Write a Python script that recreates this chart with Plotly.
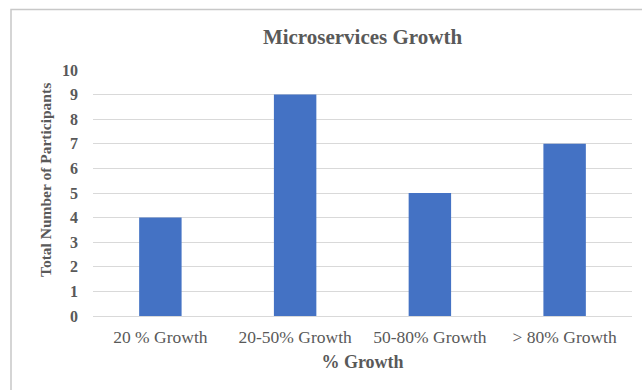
import plotly.graph_objects as go

categories = ["20 % Growth", "20-50% Growth", "50-80% Growth", "> 80% Growth"]
values = [4, 9, 5, 7]
y_ticks = list(range(0, 11))

W, H = 642, 390
L, R, T, B = 93, 10, 70, 74
pw, ph = W - L - R, H - T - B

def px_x(x):
    return (x - L) / pw

def px_y(y):
    return (H - B - y) / ph

font_family = "Liberation Serif, Times New Roman, serif"
gray = "#595959"

fig = go.Figure(go.Bar(x=categories, y=values, marker_color="#4472C4",
                       marker_line_width=0))

fig.update_layout(
    width=W, height=H,
    margin=dict(l=L, r=R, t=T, b=B),
    paper_bgcolor="white", plot_bgcolor="white",
    bargap=0.685,
    showlegend=False,
    font=dict(family=font_family, color=gray),
    title=dict(text="<b>Microservices Growth</b>", x=0.5, xref="paper",
               xanchor="center", y=1 - 37 / H, yanchor="middle",
               font=dict(size=21, color=gray, family=font_family)),
    xaxis=dict(showgrid=False, showline=True, linecolor="#d9d9d9", linewidth=1,
               ticks="", tickfont=dict(size=17.5, color=gray),
               ticklabelstandoff=5,
               title=dict(text="<b>% Growth</b>", font=dict(size=18, color=gray),
                          standoff=9)),
    yaxis=dict(range=[0, 10], tickvals=y_ticks,
               ticktext=[f"<b>{v}</b>" for v in y_ticks],
               showgrid=True, gridcolor="#d9d9d9", gridwidth=1,
               zeroline=False, ticks="", tickfont=dict(size=16, color=gray),
               ticklabelstandoff=14),
    annotations=[dict(text="<b>Total Number of Participants</b>",
                      xref="paper", yref="paper", x=px_x(45), y=px_y(180),
                      xanchor="center", yanchor="middle", textangle=-90,
                      showarrow=False, font=dict(size=15.5, color=gray))],
    shapes=[dict(type="rect", xref="paper", yref="paper",
                 x0=px_x(11), x1=px_x(700), y0=px_y(450), y1=px_y(9.5),
                 line=dict(color="#c8c8c8", width=1.5), fillcolor="rgba(0,0,0,0)",
                 layer="below")],
)

fig.write_html("out.html")
